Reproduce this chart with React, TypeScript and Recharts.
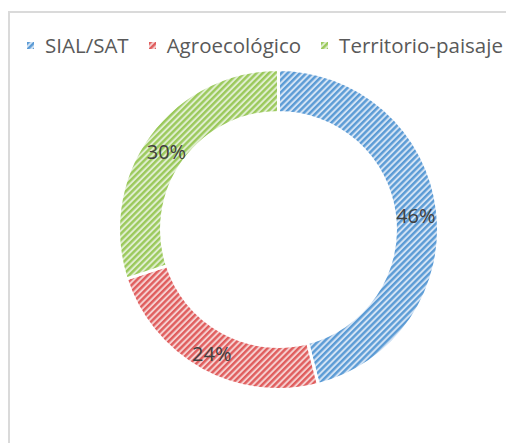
import React from "react";
import { PieChart, Pie, Cell, Legend } from "recharts";

const categories = ["SIAL/SAT", "Agroecológico", "Territorio-paisaje"];
const shares = [46, 24, 30];
const stripeColors = ["#5b9bd5", "#e05d5d", "#9bc95b"];
const bgColors = ["#d3e3f4", "#f5d0d0", "#e0eed0"];

const data = categories.map((name, i) => ({ name, value: shares[i] }));
const RAD = Math.PI / 180;

function Patterns() {
  return (
    <defs>
      {categories.map((_, i) => (
        <pattern
          key={i}
          id={`hatch-${i}`}
          width={4.4}
          height={4.4}
          patternUnits="userSpaceOnUse"
          patternTransform="rotate(45)"
        >
          <rect width={4.4} height={4.4} fill={bgColors[i]} />
          <rect width={2.4} height={4.4} fill={stripeColors[i]} />
        </pattern>
      ))}
    </defs>
  );
}

function renderLabel(props: any) {
  const { cx, cy, midAngle, innerRadius, outerRadius, value } = props;
  const r = (innerRadius + outerRadius) / 2;
  const x = cx + r * Math.cos(-midAngle * RAD);
  const y = cy + r * Math.sin(-midAngle * RAD) + 3;
  return (
    <text
      x={x}
      y={y}
      textAnchor="middle"
      dominantBaseline="central"
      fill="#404040"
      fontSize={20}
      fontFamily="'Open Sans', sans-serif"
    >
      {value}%
    </text>
  );
}

function LegendContent() {
  return (
    <div style={{ display: "flex", alignItems: "center", fontFamily: "'Open Sans', sans-serif", fontSize: 20.5, color: "#595959", whiteSpace: "nowrap" }}>
      {categories.map((c, i) => (
        <div key={c} style={{ display: "flex", alignItems: "center", marginRight: 20 }}>
          <svg width={7} height={7} style={{ marginRight: 11 }}>
            <rect width={7} height={7} fill={`url(#hatch-${i})`} />
          </svg>
          <span>{c}</span>
        </div>
      ))}
    </div>
  );
}

export default function App() {
  return (
    <>
      <style>{"html,body{margin:0;overflow:hidden}"}</style>
      <div
        style={{
          position: "absolute",
          left: 8,
          top: 11,
          width: 530,
          height: 460,
          borderTop: "2px solid #dadada",
          borderLeft: "2px solid #dadada",
          boxSizing: "border-box",
          overflow: "hidden",
        }}
      >
        <PieChart width={528} height={458} margin={{ top: 0, right: 0, bottom: 0, left: 0 }}>
          <Patterns />
          <Legend
            content={<LegendContent />}
            wrapperStyle={{ top: 18, left: 17, width: 510 }}
          />
          <Pie
            data={data}
            dataKey="value"
            nameKey="name"
            cx={268.5}
            cy={216.5}
            innerRadius={117}
            outerRadius={160}
            startAngle={90}
            endAngle={-270}
            stroke="#ffffff"
            strokeWidth={3}
            label={renderLabel}
            labelLine={false}
            isAnimationActive={false}
          >
            {data.map((_, i) => (
              <Cell key={i} fill={`url(#hatch-${i})`} />
            ))}
          </Pie>
        </PieChart>
      </div>
    </>
  );
}
